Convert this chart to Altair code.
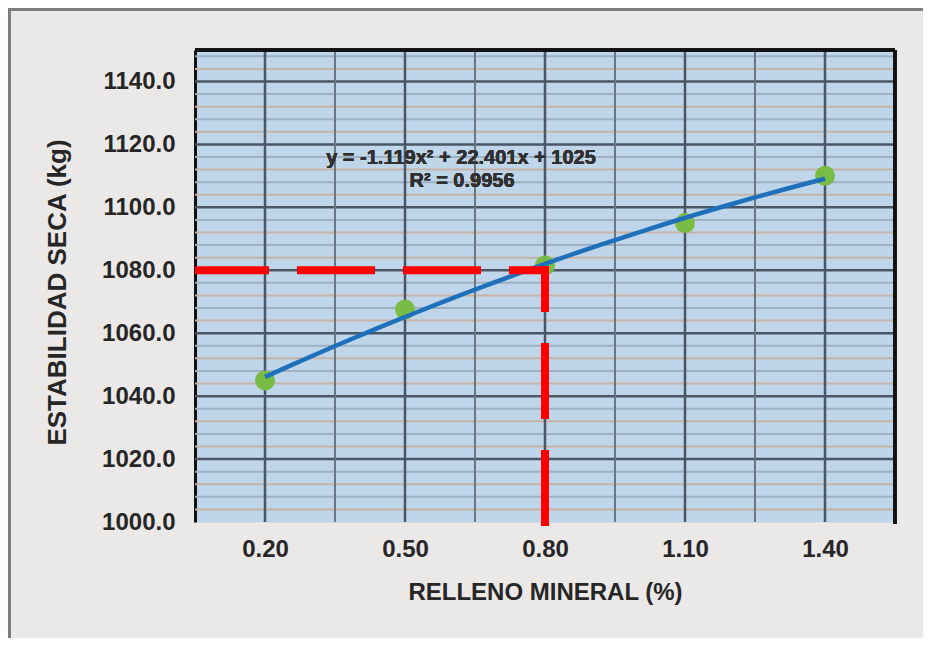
import altair as alt
import pandas as pd

# ---- data ----
relleno = [0.20, 0.50, 0.80, 1.10, 1.40]
estabilidad = [1045.0, 1067.5, 1081.5, 1095.0, 1110.0]

y_ticks = [1000, 1020, 1040, 1060, 1080, 1100, 1120, 1140]
x_ticks = [0.20, 0.50, 0.80, 1.10, 1.40]
x_mid_grid = [0.35, 0.65, 0.95, 1.25]
minor_a = [1004, 1012, 1024, 1032, 1044, 1052, 1064, 1072, 1084, 1092, 1104, 1112, 1124, 1132, 1144]
minor_b = [1008, 1016, 1028, 1036, 1048, 1056, 1068, 1076, 1088, 1096, 1108, 1116, 1128, 1136, 1148]

guia_h_x = [0.05, 0.80]
guia_h_y = [1080, 1080]
guia_v_x = [0.80, 0.80]
guia_v_y = [1000, 1080]

eq_line1 = "y = -1.119x\u00b2 + 22.401x + 1025"
eq_line2 = "R\u00b2 = 0.9956"

x_title = "RELLENO MINERAL (%)"
y_title = "ESTABILIDAD SECA (kg)"

FONT = "Liberation Sans"
W, H = 700, 472
PAD = {"left": 187, "top": 42, "right": 28, "bottom": 116}

xs = alt.Scale(domain=[0.05, 1.55], nice=False, zero=False)
ys = alt.Scale(domain=[1000, 1150], nice=False, zero=False)

AX = alt.Axis(
    values=x_ticks, format=".2f", grid=False, ticks=False, tickSize=0, domain=False,
    labelFont=FONT, labelFontSize=24, labelFontWeight="bold", labelColor="#262626",
    labelPadding=15,
    title=x_title, titleFont=FONT, titleFontSize=24, titleFontWeight="bold",
    titleColor="#262626", titleX=W / 2, titleY=70, titleAlign="center",
    titleBaseline="middle",
)
AY = alt.Axis(
    values=y_ticks, format=".1f", grid=False, ticks=False, tickSize=0,
    domain=True, domainColor="#111111", domainWidth=3,
    labelFont=FONT, labelFontSize=24, labelFontWeight="bold", labelColor="#262626",
    labelPadding=20,
    title=y_title, titleFont=FONT, titleFontSize=26, titleFontWeight="bold",
    titleColor="#262626", titleX=-138, titleY=242, titleAngle=270,
    titleAlign="center", titleBaseline="middle",
)

df = pd.DataFrame({"relleno": relleno, "estabilidad": estabilidad})

# minor horizontal stripes
minor_a_layer = alt.Chart(pd.DataFrame({"v": minor_a})).mark_rule(
    color="#c6b3a6", strokeWidth=2
).encode(y=alt.Y("v:Q", scale=ys, axis=AY))
minor_b_layer = alt.Chart(pd.DataFrame({"v": minor_b})).mark_rule(
    color="#9fb0c1", strokeWidth=2
).encode(y=alt.Y("v:Q", scale=ys, axis=AY))

# major grid
major_h = alt.Chart(pd.DataFrame({"v": y_ticks[1:]})).mark_rule(
    color="#4a5663", strokeWidth=2.5
).encode(y=alt.Y("v:Q", scale=ys, axis=AY))
mid_v = alt.Chart(pd.DataFrame({"v": x_mid_grid})).mark_rule(
    color="#6a7682", strokeWidth=2
).encode(x=alt.X("v:Q", scale=xs, axis=AX))
major_v = alt.Chart(pd.DataFrame({"v": x_ticks})).mark_rule(
    color="#4a5663", strokeWidth=2.5
).encode(x=alt.X("v:Q", scale=xs, axis=AX))

# frame: top and right
frame_top = alt.Chart(df).mark_rule(color="#111111", strokeWidth=3).encode(
    x=alt.value(0), x2=alt.value(W), y=alt.value(0)
)
frame_right = alt.Chart(df).mark_rule(color="#111111", strokeWidth=3).encode(
    x=alt.value(W), y=alt.value(0), y2=alt.value(H + 2)
)

# outer border (top and left edges of the chart image)
border_top = alt.Chart(df).mark_rule(color="#7d7d7d", strokeWidth=3).encode(
    x=alt.value(-PAD["left"]), x2=alt.value(W + PAD["right"]), y=alt.value(-PAD["top"] + 1)
)
border_left = alt.Chart(df).mark_rule(color="#7d7d7d", strokeWidth=3).encode(
    x=alt.value(-PAD["left"] + 1), y=alt.value(-PAD["top"]), y2=alt.value(H + PAD["bottom"])
)

points = alt.Chart(df).mark_circle(size=400, color="#78bb45", opacity=1).encode(
    x=alt.X("relleno:Q", scale=xs, axis=AX),
    y=alt.Y("estabilidad:Q", scale=ys, axis=AY),
)

trend = alt.Chart(df).transform_regression(
    "relleno", "estabilidad", method="poly", order=2
).mark_line(color="#1f70bb", strokeWidth=4.5).encode(
    x=alt.X("relleno:Q", scale=xs, axis=AX),
    y=alt.Y("estabilidad:Q", scale=ys, axis=AY),
)

gh = pd.DataFrame({"gx": guia_h_x, "gy": guia_h_y, "o": [0, 1]})
gv = pd.DataFrame({"gx": guia_v_x, "gy": guia_v_y, "o": [0, 1]})
guide_h = alt.Chart(gh).mark_line(
    color="#ff0000", strokeWidth=8, strokeDash=[70, 36], strokeCap="square", clip=True
).encode(
    x=alt.X("gx:Q", scale=xs, axis=AX),
    y=alt.Y("gy:Q", scale=ys, axis=AY),
    order="o:Q",
)
guide_v = alt.Chart(gv).mark_line(
    color="#ff0000", strokeWidth=8, strokeDash=[68, 39], strokeCap="square"
).encode(
    x=alt.X("gx:Q", scale=xs, axis=AX),
    y=alt.Y("gy:Q", scale=ys, axis=AY),
    order="o:Q",
)

eq1 = alt.Chart(df).mark_text(
    text=eq_line1, font=FONT, fontSize=20, fontWeight="bold", color="#303030",
    align="center", baseline="middle",
).encode(x=alt.value(266), y=alt.value(108))
eq2 = alt.Chart(df).mark_text(
    text=eq_line2, font=FONT, fontSize=20, fontWeight="bold", color="#303030",
    align="center", baseline="middle",
).encode(x=alt.value(267), y=alt.value(131))

chart = alt.layer(
    minor_a_layer, minor_b_layer, major_h, mid_v, major_v,
    frame_top, frame_right, border_top, border_left,
    points, trend, guide_h, guide_v, eq1, eq2,
).properties(
    width=W, height=H,
    autosize=alt.AutoSizeParams(type="none"),
    padding=PAD,
    background="#ebe8e8",
).configure_view(
    fill="#bfd5ea", stroke="transparent"
)

chart.save("out.html", embed_options={"renderer": "svg", "actions": False})
